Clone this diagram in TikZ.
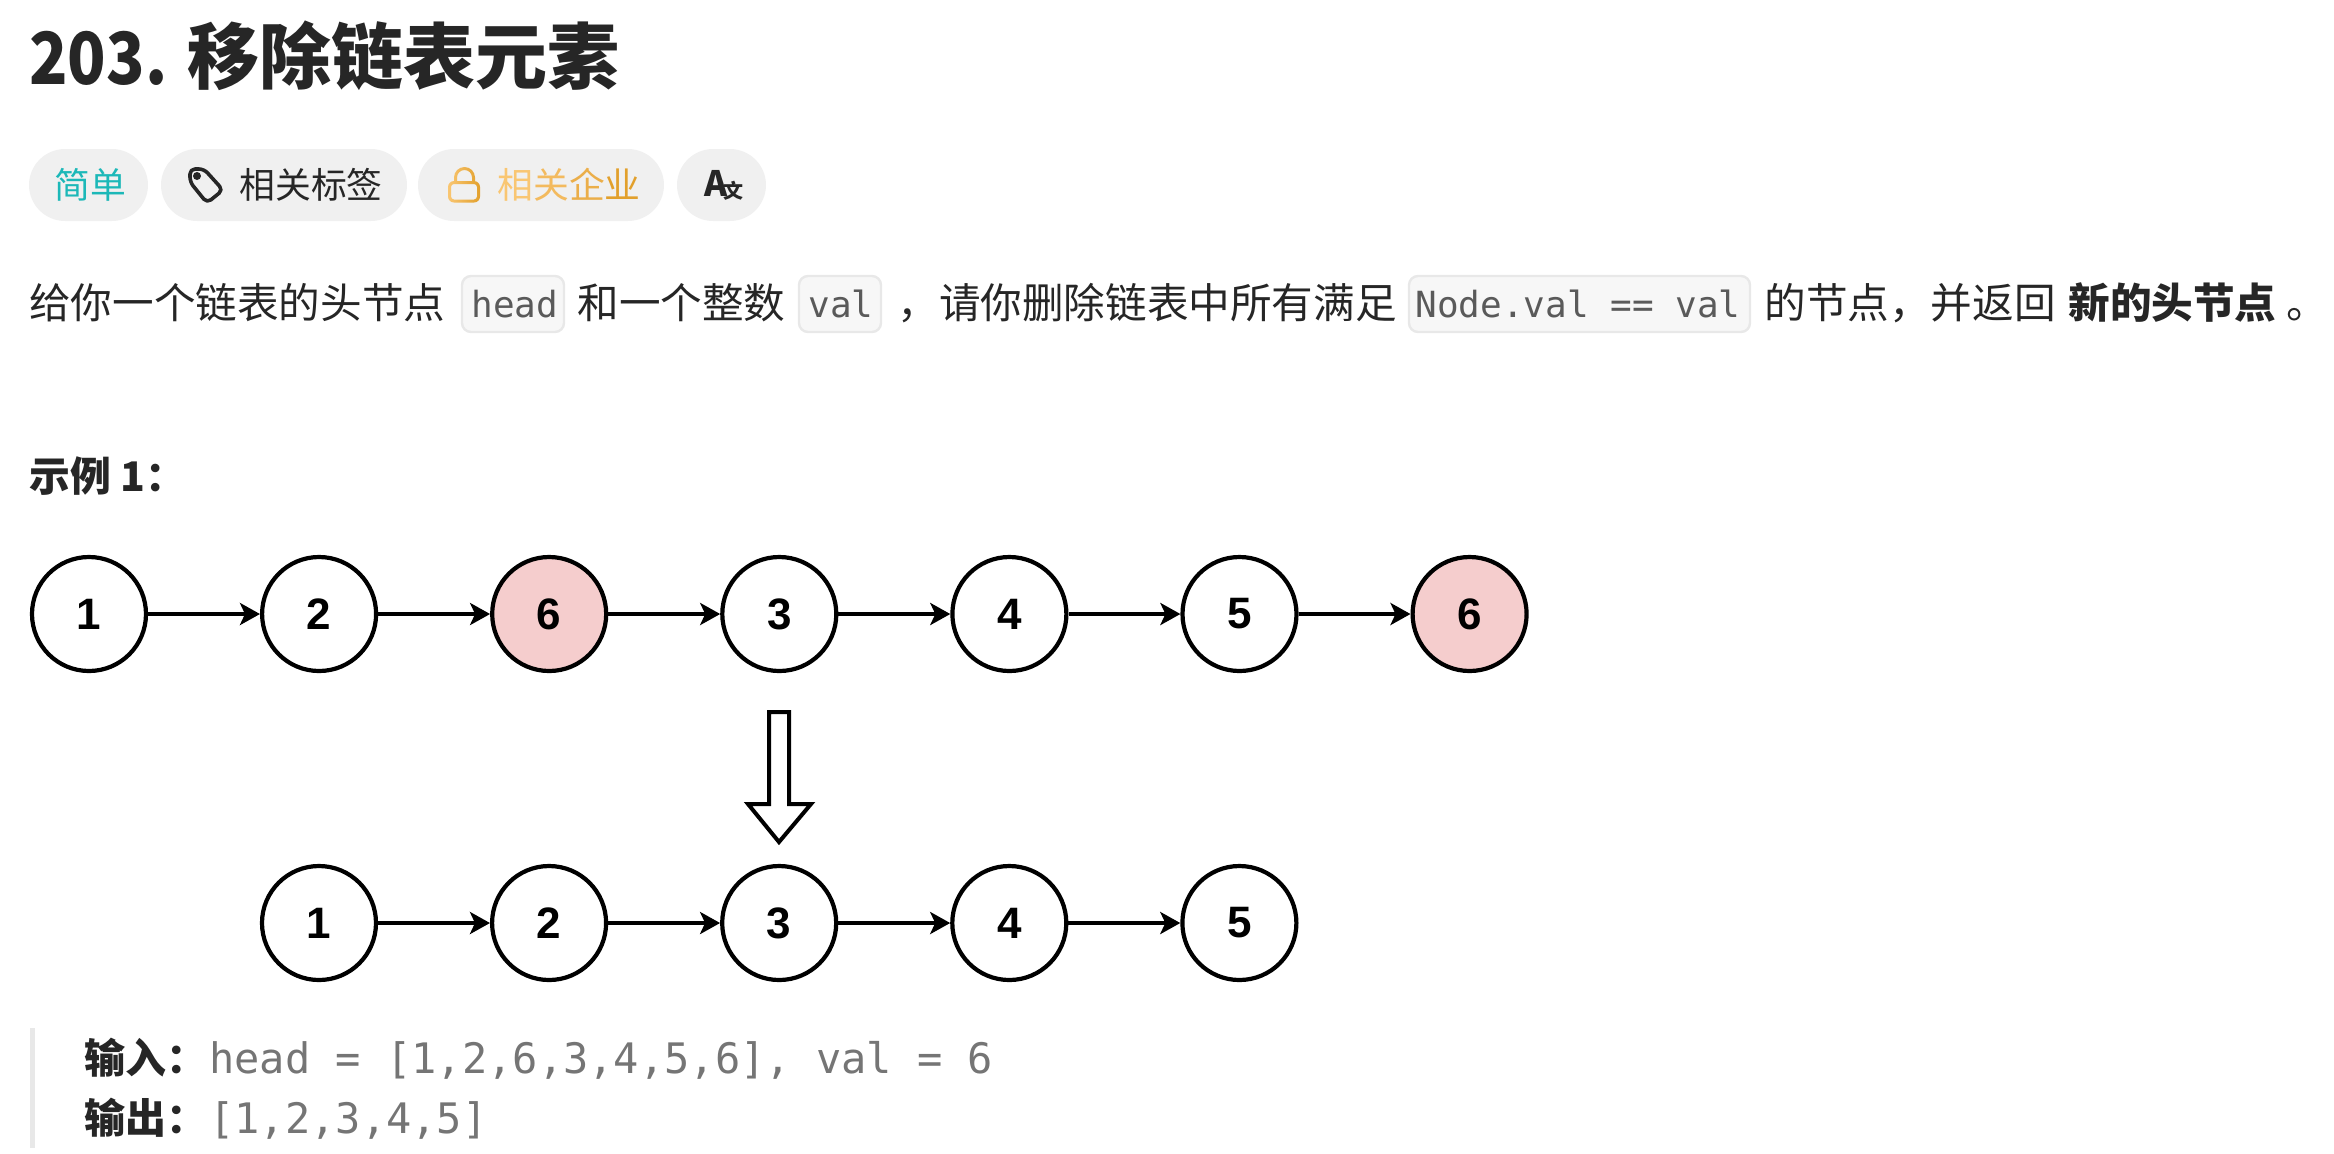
\documentclass[tikz,border=0pt]{standalone}
\usepackage{fontspec}
\usepackage{xcolor}
\setmainfont{Noto Sans CJK SC}
\setmonofont{DejaVu Sans Mono}
\newfontfamily\circlefont{Liberation Sans}
\newfontfamily\numberfont[FakeStretch=0.88]{Noto Sans CJK SC}
\usetikzlibrary{arrows.meta,positioning}
\definecolor{ink}{HTML}{262626}
\definecolor{pill}{HTML}{F0F0F0}
\definecolor{easy}{HTML}{1CB8B8}
\definecolor{goldA}{HTML}{F9C672}
\definecolor{goldB}{HTML}{F3BA5E}
\definecolor{goldC}{HTML}{EBAE49}
\definecolor{goldD}{HTML}{E2A02C}
\definecolor{removed}{HTML}{F5CDCD}
\definecolor{codefill}{HTML}{F7F7F7}
\definecolor{codeline}{HTML}{E8E8E8}
\definecolor{codeink}{HTML}{5A5A5A}
\definecolor{quoteink}{HTML}{757575}
\begin{document}
\begin{tikzpicture}[
  x=0.5pt, y=-0.5pt,
  node distance=55.95pt,
  link/.style={-{Stealth[length=10pt, width=11pt, inset=2.5pt]}, line width=2pt, draw=black},
  listnode/.style={circle, draw=black, fill=white, line width=2.1pt, minimum size=57pt, inner sep=0pt,
    font=\circlefont\fontsize{22}{22}\selectfont\bfseries},
  dropnode/.style={listnode, fill=removed},
  chip/.style={rounded corners=18pt, fill=pill, minimum height=36pt, inner sep=0pt},
  chiptext/.style={inner sep=0pt, anchor=base west, font=\fontsize{17.9}{17.9}\selectfont},
  body/.style={inner sep=0pt, anchor=base west, text=ink, font=\fontsize{20.8}{20.8}\selectfont},
  code/.style={inner sep=0pt, anchor=base west, text=codeink, font=\ttfamily\fontsize{18}{18}\selectfont},
  codebox/.style={rounded corners=4.5pt, draw=codeline, fill=codefill, line width=1.2pt, minimum height=28pt, inner sep=0pt},
  quote/.style={inner sep=0pt, anchor=base west, text=quoteink, font=\ttfamily\fontsize{21}{21}\selectfont},
  quotehead/.style={inner sep=0pt, anchor=base west, text=ink, font=\fontsize{20.5}{20.5}\selectfont\bfseries}
]
\useasboundingbox (0,0) rectangle (2334,1153);
\node[inner sep=0pt, anchor=base west, text=ink, font=\numberfont\fontsize{36}{36}\selectfont\bfseries] (number) at (29,84) {203.};
\node[inner sep=0pt, anchor=base west, text=ink, font=\fontsize{36}{36}\selectfont\bfseries] (title) at (187,83) {移除链表元素};
\node[chip, minimum width=59.5pt] (easychip) at (88.5,185) {};
\node[chip, minimum width=123pt] (tagchip) at (284,185) {};
\node[chip, minimum width=123pt] (companychip) at (541,185) {};
\node[chip, minimum width=44.5pt] (langchip) at (721.5,185) {};
\node[chiptext, text=easy] (easytext) at (54,198) {简单};
\node[chiptext, text=ink] (tagtext) at (239,198) {相关标签};
\node[chiptext] (companytext) at (497,198) {\textcolor{goldA}{相}\textcolor{goldB}{关}\textcolor{goldC}{企}\textcolor{goldD}{业}};
\draw[line width=1.8pt, draw=ink, line join=round, rounded corners=2.5pt] (190,169) -- (204,169) -- (223,190) -- (207,203) -- (190,182) -- cycle;
\fill[ink] (197,176) circle (2pt);
\shade[left color=goldA, right color=goldD, even odd rule]
  [rounded corners=3pt] (448,181) rectangle (480,202.5)
  [rounded corners=1.5pt] (451,184) rectangle (477,199.5)
  [sharp corners] (454,181) -- (454,177.5) arc (180:360:10.5) -- (475,181) -- (472,181) -- (472,177.5) arc (360:180:7.5) -- (457,181) -- cycle;
\node[chiptext, text=ink, font=\fontsize{17.5}{17.5}\selectfont\bfseries] (langtext) at (704,196) {A};
\node[chiptext, text=ink, font=\fontsize{10}{10}\selectfont\bfseries] (langsub) at (723,198) {文};
\node[body] (introa) at (29,318) {给你一个链表的头节点};
\node[codebox, minimum width=51pt] (headbox) at (513,304) {};
\node[code] (headcode) at (471,317) {head};
\node[body] (introb) at (577,318) {和一个整数};
\node[codebox, minimum width=41pt] (valbox) at (840,304) {};
\node[code] (valcode) at (808,317) {val};
\node[body] (introc) at (897,318) {，请你删除链表中所有满足};
\node[codebox, minimum width=170.5pt] (testbox) at (1579.5,304) {};
\node[code] (testcode) at (1415,317) {Node.val == val};
\node[body] (introd) at (1764,318) {的节点，并返回};
\node[body, font=\fontsize{20.8}{20.8}\selectfont\bfseries] (introe) at (2068,318) {新的头节点};
\node[body] (introf) at (2286,318) {。};
\node[body, font=\fontsize{20.4}{20.4}\selectfont\bfseries] (example) at (29,491) {示例 1：};
\node[listnode] (a) at (89,614) {1};
\node[listnode, right=of a] (b) {2};
\node[dropnode, right=of b] (c) {6};
\node[listnode, right=of c] (d) {3};
\node[listnode, right=of d] (e) {4};
\node[listnode, right=of e] (f) {5};
\node[dropnode, right=of f] (g) {6};
\node[listnode] (p) at (319,923) {1};
\node[listnode, right=of p] (q) {2};
\node[listnode, right=of q] (r) {3};
\node[listnode, right=of r] (s) {4};
\node[listnode, right=of s] (t) {5};
\draw[link] (a) -- (b);
\draw[link] (b) -- (c);
\draw[link] (c) -- (d);
\draw[link] (d) -- (e);
\draw[link] (e) -- (f);
\draw[link] (f) -- (g);
\draw[link] (p) -- (q);
\draw[link] (q) -- (r);
\draw[link] (r) -- (s);
\draw[link] (s) -- (t);
\draw[line width=2pt, draw=black, fill=white, line join=miter] (769,712) -- (789,712) -- (789,804) -- (811,804) -- (779,842) -- (748,804) -- (769,804) -- cycle;
\fill[codeline] (29.5,1028) rectangle (35,1148);
\node[quotehead] (inlabel) at (84,1073) {输入：};
\node[quote] (incode) at (209,1073) {head = [1,2,6,3,4,5,6], val = 6};
\node[quotehead] (outlabel) at (84,1133) {输出：};
\node[quote] (outcode) at (209,1133) {[1,2,3,4,5]};
\end{tikzpicture}
\end{document}
